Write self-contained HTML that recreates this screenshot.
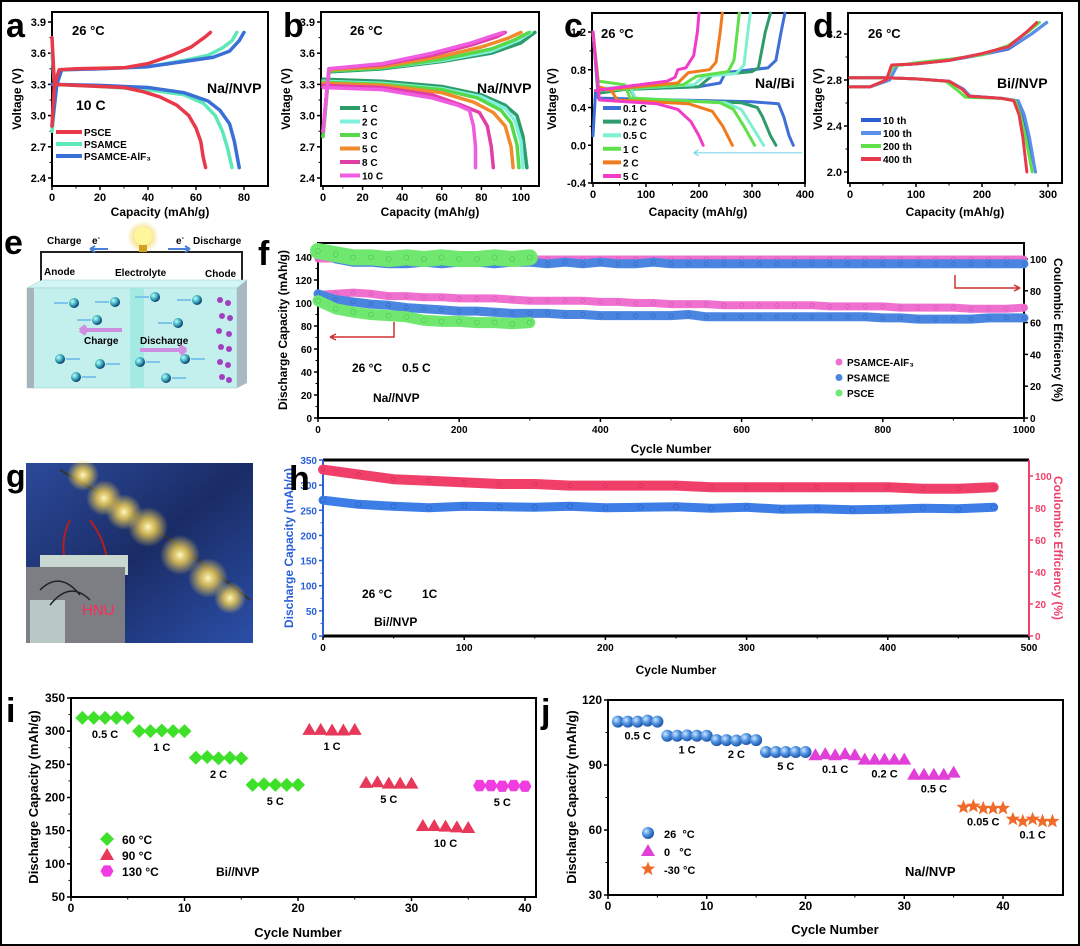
<!DOCTYPE html>
<html><head><meta charset="utf-8">
<style>
html,body{margin:0;padding:0;background:#fff}
svg{display:block;font-family:"Liberation Sans",sans-serif;font-weight:bold}
</style></head>
<body>
<svg id="fig" width="1080" height="946" viewBox="0 0 1080 946" xmlns="http://www.w3.org/2000/svg">
<defs>
 <radialGradient id="sph" cx="0.35" cy="0.35" r="0.7"><stop offset="0" stop-color="#cfe6ff"/><stop offset="0.5" stop-color="#4a8fe0"/><stop offset="1" stop-color="#1d4fa0"/></radialGradient>
 <radialGradient id="ion" cx="0.35" cy="0.35" r="0.7"><stop offset="0" stop-color="#bff"/><stop offset="0.6" stop-color="#2a9fb0"/><stop offset="1" stop-color="#126"/></radialGradient>
 <radialGradient id="glow" cx="0.5" cy="0.5" r="0.5"><stop offset="0" stop-color="#fff8c0"/><stop offset="0.4" stop-color="#f3d050" stop-opacity="0.8"/><stop offset="1" stop-color="#f3d050" stop-opacity="0"/></radialGradient>
 <linearGradient id="photo" x1="0" y1="0" x2="1" y2="1"><stop offset="0" stop-color="#2c4a9a"/><stop offset="0.5" stop-color="#1a2c66"/><stop offset="1" stop-color="#2b4fa8"/></linearGradient>
</defs>
<rect x="1" y="1" width="1078" height="944" fill="#fff" stroke="#000" stroke-width="2"/>

<g>
 <text x="4" y="254" font-size="34">e</text>
 <path d="M41,283 V252 H242 V283" fill="none" stroke="#222" stroke-width="2"/>
 <circle cx="143" cy="237" r="16" fill="url(#glow)"/>
 <circle cx="143" cy="236" r="9" fill="#fff59a"/>
 <rect x="139" y="245" width="8" height="7" fill="#d4a020"/>
 <text x="47" y="244" font-size="10">Charge</text>
 <text x="92" y="244" font-size="10">e<tspan dy="-4" font-size="7">-</tspan></text>
 <path d="M108,249 H90 M90,249 l5,-3 M90,249 l5,3" stroke="#4a7fd8" stroke-width="2" fill="none"/>
 <text x="176" y="244" font-size="10">e<tspan dy="-4" font-size="7">-</tspan></text>
 <path d="M168,249 H190 M190,249 l-5,-3 M190,249 l-5,3" stroke="#4a7fd8" stroke-width="2" fill="none"/>
 <text x="193" y="244" font-size="10">Discharge</text>
 <text x="44" y="275" font-size="10">Anode</text>
 <text x="115" y="276" font-size="10">Electrolyte</text>
 <text x="205" y="277" font-size="10">Chode</text>
 <polygon points="27,288 42,280 247,280 237,288" fill="#d3f5f3" stroke="#9cc" stroke-width="0.5"/>
 <rect x="27" y="288" width="210" height="100" fill="#c3efed" stroke="#9cc" stroke-width="0.5"/>
 <rect x="27" y="288" width="7" height="100" fill="#a8b4bc"/>
 <polygon points="237,288 247,280 247,383 237,388" fill="#a9b9c4"/>
 <rect x="130" y="288" width="14" height="100" fill="#9be8df" opacity="0.8"/>
 <g fill="url(#ion)">
  <circle cx="74" cy="303" r="5"/><circle cx="115" cy="302" r="5"/><circle cx="97" cy="320" r="5"/>
  <circle cx="155" cy="297" r="5"/><circle cx="197" cy="300" r="5"/><circle cx="178" cy="323" r="5"/>
  <circle cx="60" cy="359" r="5"/><circle cx="100" cy="364" r="5"/><circle cx="140" cy="362" r="5"/>
  <circle cx="185" cy="359" r="5"/><circle cx="76" cy="377" r="5"/><circle cx="166" cy="378" r="5"/>
 </g>
 <g stroke="#7cc6ea" stroke-width="2">
  <path d="M68,303 H54 M109,302 H95 M91,320 H77 M149,297 H135 M191,300 H177 M172,323 H158"/>
  <path d="M66,359 H80 M106,364 H120 M146,362 H160 M191,359 H205 M82,377 H96 M172,378 H186"/>
 </g>
 <path d="M122,330 H80 M80,330 l6,-4 M80,330 l6,4" stroke="#d08ee0" stroke-width="4" fill="none"/>
 <text x="84" y="344" font-size="10">Charge</text>
 <text x="140" y="344" font-size="10">Discharge</text>
 <path d="M140,350 H186 M186,350 l-6,-4 M186,350 l-6,4" stroke="#d08ee0" stroke-width="4" fill="none"/>
 <g fill="#a040c0">
  <circle cx="220" cy="300" r="3"/><circle cx="228" cy="303" r="3"/><circle cx="222" cy="316" r="3"/><circle cx="230" cy="318" r="3"/>
  <circle cx="219" cy="331" r="3"/><circle cx="229" cy="334" r="3"/><circle cx="221" cy="347" r="3"/><circle cx="229" cy="349" r="3"/>
  <circle cx="220" cy="362" r="3"/><circle cx="228" cy="365" r="3"/><circle cx="222" cy="377" r="3"/><circle cx="229" cy="380" r="3"/>
 </g>
</g>

<g>
 <text x="6" y="487" font-size="32">g</text>
 <rect x="26" y="463" width="227" height="180" fill="url(#photo)"/>
 <path d="M60,470 Q150,520 250,600" stroke="#333" stroke-width="2" fill="none"/>
 <g fill="url(#glow)">
  <circle cx="83" cy="475" r="16"/><circle cx="104" cy="498" r="18"/><circle cx="124" cy="512" r="18"/>
  <circle cx="148" cy="527" r="20"/><circle cx="180" cy="555" r="20"/><circle cx="208" cy="578" r="20"/><circle cx="230" cy="598" r="16"/>
 </g>
 <path d="M70,520 Q50,560 90,600 M90,520 Q120,560 100,610" stroke="#b02020" stroke-width="2" fill="none"/>
 <rect x="40" y="555" width="88" height="20" fill="#c8d8d0"/>
 <rect x="26" y="567" width="99" height="76" fill="#7c7e84"/>
 <rect x="30" y="600" width="35" height="43" fill="#b8c8c4"/>
 <path d="M40,590 Q60,570 80,595 M50,605 Q70,580 90,600" stroke="#222" stroke-width="1.5" fill="none"/>
 <text x="82" y="615" font-size="15" fill="#ff2a55" font-weight="normal">HNU</text>
</g>
</svg>

<script>
const NS = 'http://www.w3.org/2000/svg';
const svg = document.getElementById('fig');
function mk(tag, attrs, parent) {
  const e = document.createElementNS(NS, tag);
  for (const k in attrs) e.setAttribute(k, attrs[k]);
  (parent || svg).appendChild(e);
  return e;
}
function nm(e, name) {
  
  
  return e;
}
function lin(d0, d1, p0, p1) { const k = (p1 - p0) / (d1 - d0); return v => p0 + (v - d0) * k; }
function txt(g, x, y, s, size, anchor, color, name, rot) {
  const t = mk('text', {x: x, y: y, 'font-size': size, 'text-anchor': anchor || 'start', fill: color || '#000'}, g);
  if (rot) t.setAttribute('transform', 'rotate(-90 ' + x + ' ' + y + ')');
  if (rot === 90) t.setAttribute('transform', 'rotate(90 ' + x + ' ' + y + ')');
  t.textContent = s;
  nm(t, name);
  return t;
}

const aPsceCharge = [[0,2.9],[1,3.3],[3,3.44],[10,3.45],[30,3.46],[40,3.5],[50,3.58],[58,3.66],[64,3.76],[66,3.8]];
const aPsceDis = [[0,3.75],[1,3.3],[10,3.29],[30,3.27],[38,3.23],[45,3.18],[52,3.1],[57,3.0],[60,2.88],[62,2.75],[63,2.6],[64,2.5]];
const aPsamceCharge = [[0,2.85],[2,3.3],[4,3.44],[20,3.45],[40,3.47],[55,3.53],[65,3.58],[71,3.65],[75,3.72],[77,3.8]];
const aPsamceDis = [[0,3.6],[1,3.3],[20,3.28],[40,3.25],[55,3.2],[63,3.12],[68,3.0],[71,2.85],[73,2.7],[75,2.5]];
const aAlCharge = [[0,2.9],[2,3.3],[4,3.44],[20,3.45],[40,3.47],[55,3.52],[67,3.56],[74,3.62],[78,3.72],[80,3.8]];
const aAlDis = [[0,3.3],[20,3.29],[40,3.27],[55,3.22],[65,3.14],[70,3.05],[74,2.92],[76,2.75],[78,2.5]];
const bRates = ['1 C','2 C','3 C','5 C','8 C','10 C'];
const bColors = ['#2e9c6a','#7ff0df','#56d84a','#f08a2a','#e23fa6','#f05ce0'];
const bDis = [
 [[0,3.35],[30,3.33],[60,3.28],[80,3.2],[92,3.1],[98,3.0],[101,2.8],[103,2.5]],
 [[0,3.33],[30,3.31],[60,3.26],[80,3.18],[92,3.07],[97,2.95],[100,2.75],[101,2.5]],
 [[0,3.32],[30,3.3],[60,3.25],[78,3.17],[90,3.05],[95,2.93],[98,2.72],[99,2.5]],
 [[0,3.31],[30,3.29],[60,3.22],[76,3.13],[86,3.03],[92,2.9],[95,2.7],[96,2.5]],
 [[0,3.29],[30,3.27],[55,3.2],[70,3.1],[79,3.03],[83,2.9],[85,2.7],[86,2.5]],
 [[0,3.27],[30,3.25],[55,3.17],[68,3.1],[74,3.05],[76,2.9],[77,2.7],[77,2.5]]];
const bCharge = [
 [[0,2.8],[3,3.42],[30,3.45],[60,3.52],[85,3.6],[100,3.7],[107,3.8]],
 [[0,2.8],[3,3.43],[30,3.46],[60,3.53],[85,3.62],[98,3.72],[105,3.8]],
 [[0,2.8],[3,3.43],[30,3.46],[60,3.54],[85,3.64],[97,3.73],[104,3.8]],
 [[0,2.85],[3,3.44],[30,3.47],[60,3.57],[80,3.66],[93,3.74],[100,3.8]],
 [[0,2.85],[3,3.45],[30,3.49],[55,3.58],[75,3.68],[88,3.76],[92,3.8]],
 [[0,2.85],[3,3.45],[30,3.5],[55,3.6],[75,3.7],[86,3.77],[91,3.8]]];
const cRates = ['0.1 C','0.2 C','0.5 C','1 C','2 C','5 C'];
const cColors = ['#3d6fd6','#2e9c6a','#7ff0d0','#5fe04a','#f07a20','#f03cc8'];
const cDis = [
 [[0,1.2],[10,0.5],[80,0.49],[300,0.46],[350,0.44],[360,0.3],[370,0.1],[378,0.0]],
 [[0,1.2],[10,0.55],[70,0.6],[80,0.49],[280,0.45],[310,0.4],[320,0.3],[335,0.1],[345,0.0]],
 [[0,1.2],[10,0.6],[70,0.62],[80,0.5],[250,0.45],[280,0.38],[300,0.2],[322,0.0]],
 [[0,1.2],[10,0.68],[60,0.64],[70,0.5],[240,0.45],[265,0.38],[285,0.2],[305,0.0]],
 [[0,1.2],[10,0.62],[35,0.58],[45,0.48],[180,0.44],[225,0.36],[245,0.2],[263,0.0]],
 [[0,1.2],[12,0.48],[120,0.44],[160,0.38],[185,0.25],[200,0.1],[208,0.0]]];
const cCharge = [
 [[0,0.1],[5,0.58],[200,0.62],[240,0.66],[250,0.77],[330,0.82],[345,0.9],[355,1.2],[362,1.4]],
 [[5,0.58],[200,0.62],[225,0.74],[300,0.78],[312,0.82],[325,1.2],[335,1.4]],
 [[5,0.58],[190,0.64],[210,0.73],[270,0.76],[285,0.85],[292,1.2],[297,1.4]],
 [[5,0.58],[170,0.64],[195,0.73],[255,0.78],[266,0.9],[272,1.2],[276,1.4]],
 [[5,0.58],[160,0.66],[180,0.77],[220,0.8],[232,0.88],[240,1.2],[244,1.4]],
 [[5,0.58],[140,0.68],[155,0.72],[160,0.8],[175,0.82],[190,0.95],[197,1.2],[200,1.4]]];
const dCycles = ['10 th','100 th','200 th','400 th'];
const dColors = ['#2f5fd0','#5b8fe8','#5fe04a','#e8394a'];
const dDis = [
 [[0,2.82],[50,2.82],[100,2.81],[150,2.79],[172,2.72],[182,2.66],[230,2.64],[252,2.62],[262,2.5],[270,2.3],[281,2.0]],
 [[0,2.82],[50,2.82],[100,2.81],[150,2.79],[172,2.72],[182,2.66],[230,2.64],[255,2.62],[264,2.5],[272,2.3],[281,2.0]],
 [[0,2.82],[50,2.82],[100,2.81],[145,2.79],[165,2.7],[175,2.65],[230,2.64],[250,2.62],[258,2.5],[266,2.3],[276,2.0]],
 [[0,2.82],[50,2.82],[100,2.81],[150,2.79],[170,2.72],[180,2.66],[230,2.64],[248,2.62],[256,2.5],[262,2.3],[268,2.0]]];
const dCharge = [
 [[0,2.74],[30,2.74],[60,2.8],[72,2.93],[100,2.94],[150,2.97],[200,3.02],[240,3.07],[275,3.2],[298,3.3]],
 [[0,2.74],[30,2.74],[60,2.8],[72,2.93],[100,2.94],[150,2.97],[200,3.02],[240,3.08],[275,3.2],[298,3.3]],
 [[0,2.74],[30,2.74],[55,2.8],[65,2.92],[100,2.95],[150,2.98],[200,3.02],[240,3.1],[270,3.22],[287,3.3]],
 [[0,2.74],[30,2.74],[55,2.8],[63,2.93],[100,2.94],[150,2.97],[200,3.03],[240,3.09],[268,3.22],[283,3.3]]];
const fCycles = [0,25,50,75,100,125,150,175,200,225,250,275,300,325,350,375,400,425,450,475,500,525,550,575,600,625,650,675,700,725,750,775,800,825,850,875,900,925,950,975,1000];
const fAlCap = [107,108,109,108,106,106,105,105,104,104,104,103,102,102,102,102,101,101,100,100,99,99,99,98,98,98,98,98,98,97,97,97,97,96,96,96,96,95,95,95,96];
const fPsamceCap = [108,103,101,99,98,96,95,94,93,93,92,91,91,91,90,90,89,89,89,89,89,90,88,88,88,88,88,88,88,88,88,88,87,87,86,86,86,86,87,87,87];
const fAlCE = [100,100,100,100,100,100,100,100,100,100,100,100,100,100,100,100,100,100,100,100,100,100,100,100,100,100,100,100,100,100,100,100,100,100,100,100,100,100,100,100,100];
const fPsamceCE = [107,100,98,98,97,97,98,97,98,98,97,98,98,97,98,97,98,97,97,98,97,97,97,97,97,97,97,97,97,97,97,97,97,97,97,97,97,97,97,97,97];
const fPsceCycles = [0,25,50,75,100,125,150,175,200,225,250,275,300];
const fPsceCap = [102,95,92,90,89,88,85,84,84,83,83,82,83];
const fPsceCE = [105,103,101,101,100,101,100,101,100,100,101,100,101];
const hCycles = [0,25,50,75,100,125,150,175,200,225,250,275,300,325,350,375,400,425,450,475];
const hCap = [270,262,258,255,258,257,256,258,255,256,257,254,256,252,253,251,252,254,253,256];
const hCE = [104,101,98,97,96,95,95,94,94,94,94,93,93,93,93,93,93,92,92,93];
const iCycles = [1,2,3,4,5,6,7,8,9,10,11,12,13,14,15,16,17,18,19,20,21,22,23,24,25,26,27,28,29,30,31,32,33,34,35,36,37,38,39,40];
const iCap = [320,320,320,320,320,300,300,301,300,300,260,261,259,260,259,219,220,219,219,219,302,302,301,301,302,222,223,221,221,221,157,157,156,155,154,218,218,217,218,217];
const iTemp = [0,0,0,0,0,0,0,0,0,0,0,0,0,0,0,0,0,0,0,0,1,1,1,1,1,1,1,1,1,1,1,1,1,1,1,2,2,2,2,2];
const iRateLabels = ['0.5 C','1 C','2 C','5 C','1 C','5 C','10 C','5 C'];
const iTempLabels = ['60 °C','90 °C','130 °C'];
const jCycles = [1,2,3,4,5,6,7,8,9,10,11,12,13,14,15,16,17,18,19,20,21,22,23,24,25,26,27,28,29,30,31,32,33,34,35,36,37,38,39,40,41,42,43,44,45];
const jCap = [110,110,110,110.5,110,103.5,103.5,103.7,103.5,103.5,101.5,101.5,101.3,102,101.5,96,96,96,96,96,94.5,95,94.5,95,94.5,92.5,92.5,92.5,92.5,92.5,85.5,85.5,85.5,85.5,86.5,70.5,71,70,70,70,65,64,65,64,64];
const jTemp = [0,0,0,0,0,0,0,0,0,0,0,0,0,0,0,0,0,0,0,0,1,1,1,1,1,1,1,1,1,1,1,1,1,1,1,2,2,2,2,2,2,2,2,2,2];
const jRateLabels = ['0.5 C','1 C','2 C','5 C','0.1 C','0.2 C','0.5 C','0.05 C','0.1 C'];
const jTempLabels = ['26  °C','0   °C','-30 °C'];

function axes(g, c) {
  const [l, t, r, b] = c.box;
  const fs = c.fs || 11;
  c.xticks.forEach((v, i) => {
    const x = c.xs(v);
    const tk = mk('line', {x1: x, y1: b, x2: x, y2: b + 4, stroke: '#000', 'stroke-width': 1.5}, g);
    nm(tk, 'x-tick');
    txt(g, x, b + 15, c.xfmt ? c.xfmt(v) : String(v), fs, 'middle', '#000', 'x-tick-label');
    if (i < c.xticks.length - 1) {
      const xm = c.xs((v + c.xticks[i + 1]) / 2);
      const mt = mk('line', {x1: xm, y1: b, x2: xm, y2: b + 2.5, stroke: '#000', 'stroke-width': 1}, g);
      nm(mt, 'x-minor-tick');
    }
  });
  const lc = c.leftColor || '#000';
  c.yticks.forEach((v, i) => {
    const y = c.ys(v);
    const tk = mk('line', {x1: l - 4, y1: y, x2: l, y2: y, stroke: lc, 'stroke-width': 1.5}, g);
    nm(tk, 'y-tick');
    txt(g, l - 6, y + 4, c.yfmt ? c.yfmt(v) : String(v), fs, 'end', lc, 'y-tick-label');
    if (i < c.yticks.length - 1) {
      const ym = c.ys((v + c.yticks[i + 1]) / 2);
      const mt = mk('line', {x1: l - 2.5, y1: ym, x2: l, y2: ym, stroke: lc, 'stroke-width': 1}, g);
      nm(mt, 'y-minor-tick');
    }
  });
  if (c.ys2) {
    const rc = c.rightColor || '#000';
    c.y2ticks.forEach(v => {
      const y = c.ys2(v);
      const tk = mk('line', {x1: r, y1: y, x2: r + 4, y2: y, stroke: rc, 'stroke-width': 1.5}, g);
      nm(tk, 'y2-tick');
      txt(g, r + 6, y + 4, String(v), fs, 'start', rc, 'y2-tick-label');
    });
  }
  if (c.split) {
    const tl = mk('line', {x1: l, y1: t, x2: r, y2: t, stroke: '#000', 'stroke-width': 3}, g); nm(tl, 'axis-top');
    const bl = mk('line', {x1: l, y1: b, x2: r, y2: b, stroke: '#000', 'stroke-width': 3}, g); nm(bl, 'x-axis-line');
    const ll = mk('line', {x1: l, y1: t, x2: l, y2: b, stroke: c.leftColor, 'stroke-width': 2}, g); nm(ll, 'y-axis-line');
    const rl = mk('line', {x1: r, y1: t, x2: r, y2: b, stroke: c.rightColor, 'stroke-width': 2}, g); nm(rl, 'y2-axis-line');
  } else {
    const bx = mk('rect', {x: l, y: t, width: r - l, height: b - t, fill: 'none', stroke: '#000', 'stroke-width': 2}, g);
    nm(bx, 'plot-frame');
  }
}
function curve(g, pts, xs, ys, color, name, w) {
  const d = pts.map((p, i) => (i ? 'L' : 'M') + xs(p[0]).toFixed(1) + ',' + ys(p[1]).toFixed(1)).join(' ');
  const p = mk('path', {d: d, fill: 'none', stroke: color, 'stroke-width': w || 3.5, 'stroke-linejoin': 'round', 'stroke-linecap': 'round'}, g);
  nm(p, name);
  return p;
}
function scatterBand(g, xv, yv, xs, ys, color, edge, name, bw, r) {
  const d = xv.map((v, i) => (i ? 'L' : 'M') + xs(v).toFixed(1) + ',' + ys(yv[i]).toFixed(1)).join(' ');
  const band = mk('path', {d: d, fill: 'none', stroke: color, 'stroke-width': bw, 'stroke-linejoin': 'round', 'stroke-linecap': 'round'}, g);
  nm(band, name + '-band');
  xv.forEach((v, i) => {
    const c = mk('circle', {cx: xs(v), cy: ys(yv[i]), r: r, fill: 'none', stroke: edge, 'stroke-width': 0.6, opacity: 0.6}, g);
    nm(c, name + '-point');
  });
}
function legendLine(g, x, y, color, label, name, len) {
  const ln = mk('line', {x1: x, y1: y, x2: x + (len || 22), y2: y, stroke: color, 'stroke-width': 4}, g);
  nm(ln, name + '-swatch');
  txt(g, x + (len || 22) + 2, y + 4, label, 10, 'start', '#000', name + '-label');
}
function panelLetter(x, y, s) {
  return txt(svg, x, y, s, 34, 'start', '#000', 'panel-label-' + s);
}
function markerShape(g, kind, x, y, color, name) {
  let e;
  if (kind === 'diamond') e = mk('path', {d: `M${x},${y-7} L${x+7},${y} L${x},${y+7} L${x-7},${y} Z`, fill: color}, g);
  else if (kind === 'tri') e = mk('path', {d: `M${x},${y-7} L${x+7},${y+5} L${x-7},${y+5} Z`, fill: color}, g);
  else if (kind === 'hex') {
    let d = '';
    for (let k = 0; k < 6; k++) { const a = Math.PI / 3 * k; d += (k ? 'L' : 'M') + (x + 6.5 * Math.cos(a)).toFixed(1) + ',' + (y + 6.5 * Math.sin(a)).toFixed(1); }
    e = mk('path', {d: d + 'Z', fill: color}, g);
  } else if (kind === 'sphere') e = mk('circle', {cx: x, cy: y, r: 6, fill: 'url(#sph)'}, g);
  else if (kind === 'star') {
    let d = '';
    for (let k = 0; k < 10; k++) { const a = -Math.PI / 2 + Math.PI / 5 * k; const rr = k % 2 ? 3.2 : 7.5; d += (k ? 'L' : 'M') + (x + rr * Math.cos(a)).toFixed(1) + ',' + (y + rr * Math.sin(a)).toFixed(1); }
    e = mk('path', {d: d + 'Z', fill: color}, g);
  }
  nm(e, name);
  return e;
}
const f1 = v => v.toFixed(1);

(function () {
  const g = nm(mk('g', {}), 'panel-a-chart');
  const xs = lin(0, 80, 52, 244), ys = lin(2.4, 3.9, 178, 22);
  axes(g, {box: [52, 12, 268, 186], xs, ys, xticks: [0,20,40,60,80], yticks: [2.4,2.7,3.0,3.3,3.6,3.9], yfmt: f1});
  txt(g, 160, 216, 'Capacity (mAh/g)', 12, 'middle', '#000', 'x-axis-title');
  txt(g, 21, 99, 'Voltage (V)', 12, 'middle', '#000', 'y-axis-title', true);
  curve(g, aPsamceCharge, xs, ys, '#5de8b9', 'psamce-charge');
  curve(g, aPsamceDis, xs, ys, '#5de8b9', 'psamce-discharge');
  curve(g, aAlCharge, xs, ys, '#3a6fd8', 'psamce-alf3-charge');
  curve(g, aAlDis, xs, ys, '#3a6fd8', 'psamce-alf3-discharge');
  curve(g, aPsceCharge, xs, ys, '#e8394a', 'psce-charge');
  curve(g, aPsceDis, xs, ys, '#e8394a', 'psce-discharge');
  txt(g, 72, 35, '26 °C', 13, 'start', '#000', 'temperature-label');
  txt(g, 207, 93, 'Na//NVP', 14, 'start', '#000', 'cell-label');
  txt(g, 76, 110, '10 C', 14, 'start', '#000', 'rate-label');
  legendLine(g, 56, 132, '#e8394a', 'PSCE', 'legend-psce', 26);
  legendLine(g, 56, 144, '#5de8b9', 'PSAMCE', 'legend-psamce', 26);
  legendLine(g, 56, 156, '#3a6fd8', 'PSAMCE-AlF₃', 'legend-psamce-alf3', 26);
  panelLetter(6, 37, 'a');
})();

(function () {
  const g = nm(mk('g', {}), 'panel-b-chart');
  const xs = lin(0, 100, 323, 521), ys = lin(2.4, 3.9, 178, 22);
  axes(g, {box: [321, 12, 539, 186], xs, ys, xticks: [0,20,40,60,80,100], yticks: [2.4,2.7,3.0,3.3,3.6,3.9], yfmt: f1});
  txt(g, 430, 216, 'Capacity (mAh/g)', 12, 'middle', '#000', 'x-axis-title');
  txt(g, 290, 99, 'Voltage (V)', 12, 'middle', '#000', 'y-axis-title', true);
  for (let i = 0; i < bRates.length; i++) {
    curve(g, bCharge[i], xs, ys, bColors[i], 'charge-' + bRates[i].replace(' ', ''));
    curve(g, bDis[i], xs, ys, bColors[i], 'discharge-' + bRates[i].replace(' ', ''));
    legendLine(g, 340, 108 + i * 13.5, bColors[i], bRates[i], 'legend-' + bRates[i].replace(' ', ''), 20);
  }
  txt(g, 350, 35, '26 °C', 13, 'start', '#000', 'temperature-label');
  txt(g, 477, 93, 'Na//NVP', 14, 'start', '#000', 'cell-label');
  panelLetter(283, 37, 'b');
})();

(function () {
  const g = nm(mk('g', {}), 'panel-c-chart');
  const xs = lin(0, 400, 593, 805), ys = lin(-0.4, 1.2, 183, 32);
  axes(g, {box: [592, 13, 805, 183], xs, ys, xticks: [0,100,200,300,400], yticks: [-0.4,0.0,0.4,0.8,1.2], yfmt: f1});
  txt(g, 698, 216, 'Capacity (mAh/g)', 12, 'middle', '#000', 'x-axis-title');
  txt(g, 556, 99, 'Voltage (V)', 12, 'middle', '#000', 'y-axis-title', true);
  for (let i = 0; i < cRates.length; i++) {
    curve(g, cCharge[i], xs, ys, cColors[i], 'charge-' + cRates[i].replace(' ', ''), 3);
    curve(g, cDis[i], xs, ys, cColors[i], 'discharge-' + cRates[i].replace(' ', ''), 3);
    legendLine(g, 603, 108 + i * 13.6, cColors[i], cRates[i], 'legend-' + cRates[i].replace(' ', ''), 18);
  }
  const ar = mk('path', {d: `M${xs(395)},${ys(-0.08)} H${xs(190)} M${xs(190)},${ys(-0.08)} l5,-3 M${xs(190)},${ys(-0.08)} l5,3`, stroke: '#7fd8e8', 'stroke-width': 1.2, fill: 'none'}, g);
  nm(ar, 'discharge-direction-arrow');
  txt(g, 601, 38, '26 °C', 13, 'start', '#000', 'temperature-label');
  txt(g, 755, 88, 'Na//Bi', 14, 'start', '#000', 'cell-label');
  panelLetter(564, 37, 'c');
})();

(function () {
  const g = nm(mk('g', {}), 'panel-d-chart');
  const xs = lin(0, 300, 850, 1048), ys = lin(2.0, 3.2, 172, 34);
  axes(g, {box: [848, 13, 1062, 183], xs, ys, xticks: [0,100,200,300], yticks: [2.0,2.4,2.8,3.2], yfmt: f1});
  txt(g, 955, 216, 'Capacity (mAh/g)', 12, 'middle', '#000', 'x-axis-title');
  txt(g, 822, 99, 'Voltage (V)', 12, 'middle', '#000', 'y-axis-title', true);
  for (let i = 0; i < dCycles.length; i++) {
    curve(g, dCharge[i], xs, ys, dColors[i], 'charge-' + dCycles[i].replace(' ', ''), 3);
    curve(g, dDis[i], xs, ys, dColors[i], 'discharge-' + dCycles[i].replace(' ', ''), 3);
    legendLine(g, 861, 120 + i * 13, dColors[i], dCycles[i], 'legend-' + dCycles[i].replace(' ', ''), 20);
  }
  txt(g, 868, 38, '26 °C', 13, 'start', '#000', 'temperature-label');
  txt(g, 997, 88, 'Bi//NVP', 14, 'start', '#000', 'cell-label');
  panelLetter(813, 37, 'd');
})();

(function () {
  const g = nm(mk('g', {}), 'panel-f-chart');
  const xs = lin(0, 1000, 318, 1024), ys = lin(0, 140, 418, 257), ys2 = lin(0, 100, 418, 259);
  axes(g, {box: [318, 243, 1024, 418], xs, ys, ys2, xticks: [0,200,400,600,800,1000], yticks: [0,20,40,60,80,100,120,140], y2ticks: [0,20,40,60,80,100], fs: 10});
  txt(g, 671, 453, 'Cycle Number', 12, 'middle', '#000', 'x-axis-title');
  txt(g, 287, 330, 'Discharge Capacity (mAh/g)', 12, 'middle', '#000', 'y-axis-title', true);
  txt(g, 1054, 330, 'Coulombic Efficiency (%)', 12, 'middle', '#000', 'y2-axis-title', 90);
  scatterBand(g, fCycles, fAlCE, xs, ys2, '#f070d0', '#c040a0', 'psamce-alf3-ce', 7, 2);
  scatterBand(g, fCycles, fPsamceCE, xs, ys2, '#4a86e0', '#2050b0', 'psamce-ce', 9, 2);
  scatterBand(g, fPsceCycles, fPsceCE, xs, ys2, '#70e870', '#30b040', 'psce-ce', 16, 2.5);
  scatterBand(g, fCycles, fAlCap, xs, ys, '#f070d0', '#c040a0', 'psamce-alf3-capacity', 8, 2);
  scatterBand(g, fCycles, fPsamceCap, xs, ys, '#4a86e0', '#2050b0', 'psamce-capacity', 9, 2);
  scatterBand(g, fPsceCycles, fPsceCap, xs, ys, '#70e870', '#30b040', 'psce-capacity', 11, 2.5);
  const ar1 = mk('path', {d: 'M394,322 V337 H330 M330,337 l6,-3 M330,337 l6,3', stroke: '#d03030', 'stroke-width': 1.5, fill: 'none'}, g);
  nm(ar1, 'left-axis-arrow');
  const ar2 = mk('path', {d: 'M955,275 V288 H1020 M1020,288 l-6,-3 M1020,288 l-6,3', stroke: '#d03030', 'stroke-width': 1.5, fill: 'none'}, g);
  nm(ar2, 'right-axis-arrow');
  txt(g, 352, 372, '26 °C', 12, 'start', '#000', 'temperature-label');
  txt(g, 402, 372, '0.5 C', 12, 'start', '#000', 'rate-label');
  txt(g, 373, 402, 'Na//NVP', 12, 'start', '#000', 'cell-label');
  const lg = [['#f070d0','PSAMCE-AlF₃'],['#4a86e0','PSAMCE'],['#70e870','PSCE']];
  lg.forEach((e, i) => {
    const c = mk('circle', {cx: 839, cy: 362 + i * 15.5, r: 3.5, fill: e[0]}, g);
    nm(c, 'legend-marker');
    txt(g, 847, 366 + i * 15.5, e[1], 10, 'start', '#000', 'legend-label');
  });
  panelLetter(258, 265, 'f');
})();

(function () {
  const g = nm(mk('g', {}), 'panel-h-chart');
  const xs = lin(0, 500, 323, 1029), ys = lin(0, 350, 636, 460), ys2 = lin(0, 100, 636, 476);
  axes(g, {box: [323, 460, 1029, 636], xs, ys, ys2, split: true, leftColor: '#2a5fd8', rightColor: '#f0406a', xticks: [0,100,200,300,400,500], yticks: [0,50,100,150,200,250,300,350], y2ticks: [0,20,40,60,80,100], fs: 10});
  txt(g, 676, 674, 'Cycle Number', 12, 'middle', '#000', 'x-axis-title');
  txt(g, 293, 548, 'Discharge Capacity (mAh/g)', 12, 'middle', '#2a5fd8', 'y-axis-title', true);
  txt(g, 1054, 548, 'Coulombic Efficiency (%)', 12, 'middle', '#f0406a', 'y2-axis-title', 90);
  scatterBand(g, hCycles, hCE, xs, ys2, '#f0406a', '#c02050', 'ce', 10, 2);
  scatterBand(g, hCycles, hCap, xs, ys, '#3c7de6', '#1c4fb0', 'capacity', 9, 2.5);
  txt(g, 362, 598, '26 °C', 12, 'start', '#000', 'temperature-label');
  txt(g, 422, 598, '1C', 12, 'start', '#000', 'rate-label');
  txt(g, 374, 626, 'Bi//NVP', 12, 'start', '#000', 'cell-label');
  panelLetter(289, 490, 'h');
})();

(function () {
  const g = nm(mk('g', {}), 'panel-i-chart');
  const xs = lin(0, 40, 71, 525), ys = lin(50, 350, 897, 698);
  axes(g, {box: [71, 698, 536, 897], xs, ys, xticks: [0,10,20,30,40], yticks: [50,100,150,200,250,300,350], fs: 12});
  txt(g, 298, 937, 'Cycle Number', 13, 'middle', '#000', 'x-axis-title');
  txt(g, 38, 797, 'Discharge Capacity (mAh/g)', 13, 'middle', '#000', 'y-axis-title', true);
  const kinds = ['diamond', 'tri', 'hex'], cols = ['#3fe02a', '#e8385a', '#f03ce0'];
  iCycles.forEach((c, i) => markerShape(g, kinds[iTemp[i]], xs(c), ys(iCap[i]), cols[iTemp[i]], 'point-cycle-' + c));
  iRateLabels.forEach((s, k) => {
    const grp = iCycles.slice(k * 5, k * 5 + 5), vals = iCap.slice(k * 5, k * 5 + 5);
    const mc = grp.reduce((a, b) => a + b, 0) / 5, mv = vals.reduce((a, b) => a + b, 0) / 5;
    txt(g, xs(mc), ys(mv) + 20, s, 11, 'middle', '#000', 'rate-label');
  });
  iTempLabels.forEach((s, k) => {
    markerShape(g, kinds[k], 107, 839 + k * 16, cols[k], 'legend-marker');
    txt(g, 122, 844 + k * 16, s, 12, 'start', '#000', 'legend-label');
  });
  txt(g, 216, 876, 'Bi//NVP', 12, 'start', '#000', 'cell-label');
  txt(svg, 6, 722, 'i', 34, 'start', '#000', 'panel-label-i');
})();

(function () {
  const g = nm(mk('g', {}), 'panel-j-chart');
  const xs = lin(0, 40, 608, 1003), ys = lin(30, 120, 895, 700);
  axes(g, {box: [608, 700, 1063, 895], xs, ys, xticks: [0,10,20,30,40], yticks: [30,60,90,120], fs: 12});
  txt(g, 835, 934, 'Cycle Number', 13, 'middle', '#000', 'x-axis-title');
  txt(g, 576, 797, 'Discharge Capacity (mAh/g)', 13, 'middle', '#000', 'y-axis-title', true);
  const kinds = ['sphere', 'tri', 'star'], cols = ['#4a8fe0', '#e040d8', '#f06a2a'];
  jCycles.forEach((c, i) => markerShape(g, kinds[jTemp[i]], xs(c), ys(jCap[i]), cols[jTemp[i]], 'point-cycle-' + c));
  jRateLabels.forEach((s, k) => {
    const grp = jCycles.slice(k * 5, k * 5 + 5), vals = jCap.slice(k * 5, k * 5 + 5);
    const mc = grp.reduce((a, b) => a + b, 0) / 5, mv = vals.reduce((a, b) => a + b, 0) / 5;
    txt(g, xs(mc), ys(mv) + 18, s, 11, 'middle', '#000', 'rate-label');
  });
  jTempLabels.forEach((s, k) => {
    markerShape(g, kinds[k], 648, 833 + k * 18, cols[k], 'legend-marker');
    const t = txt(g, 664, 838 + k * 18, s, 11, 'start', '#000', 'legend-label');
    t.setAttribute('xml:space', 'preserve');
    t.style.whiteSpace = 'pre';
  });
  txt(g, 905, 876, 'Na//NVP', 13, 'start', '#000', 'cell-label');
  txt(svg, 541, 723, 'j', 34, 'start', '#000', 'panel-label-j');
})();
</script>
</body></html>
